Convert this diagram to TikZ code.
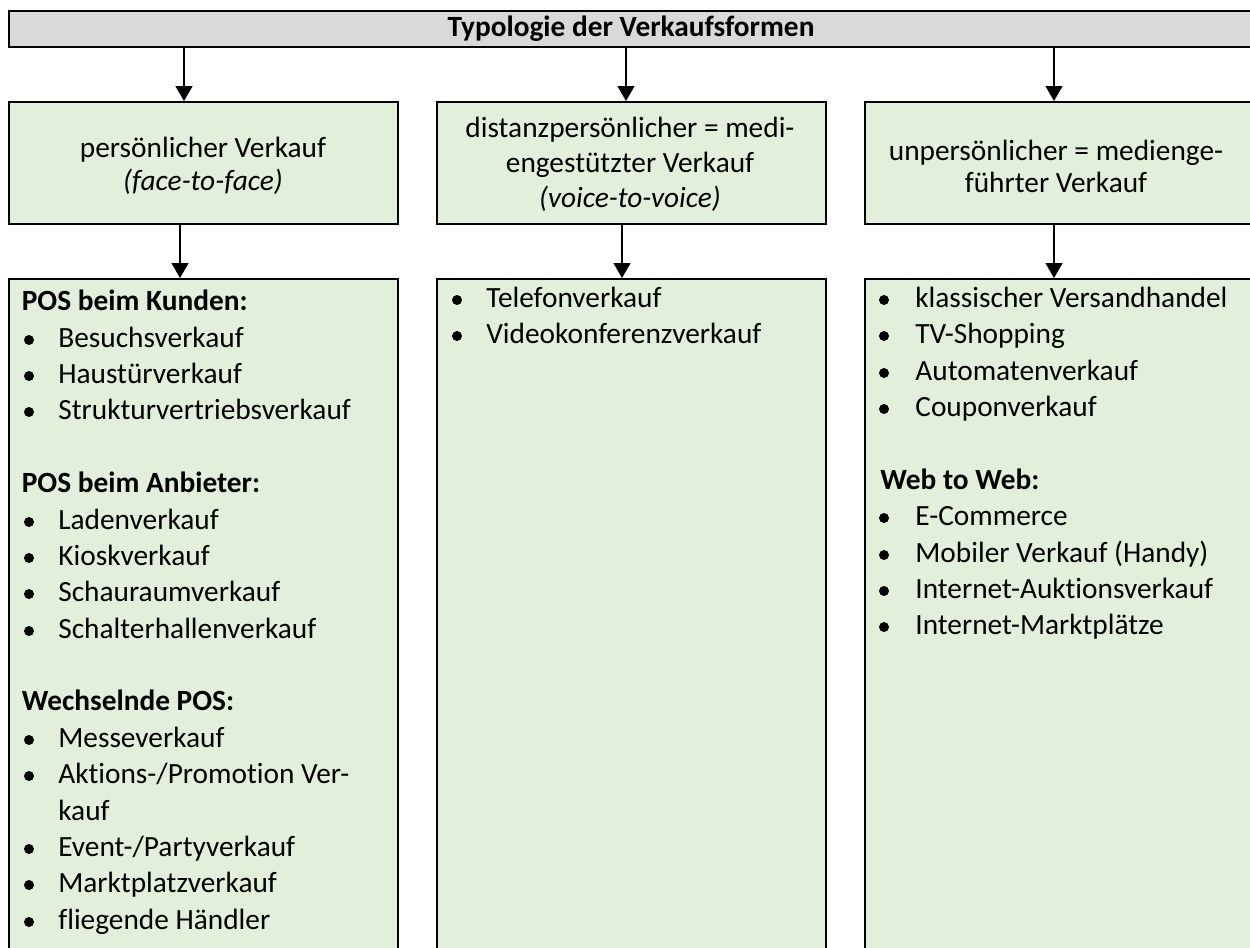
\documentclass[tikz,border=0pt]{standalone}
\usepackage{fontspec}
\setmainfont{Carlito}[Ligatures=CommonOff]
\usetikzlibrary{arrows.meta}

\newlength{\du}
\setlength{\du}{0.02cm}

\definecolor{boxgreen}{HTML}{E2EFDA}
\definecolor{bargray}{HTML}{D9D9D9}

\tikzset{
  greenbox/.style={draw=black, line width=2\du, fill=boxgreen, inner sep=0pt, anchor=north west},
  graybar/.style={draw=black, line width=2\du, fill=bargray, inner sep=0pt, anchor=north west, font=\bfseries},
  feed/.style={line width=1.3\du, -{Triangle[width=0.34cm,length=0.3cm]}},
  txt/.style={inner sep=0pt, anchor=base west},
  ctr/.style={inner sep=0pt, anchor=base},
  dot/.style={circle, fill=black, inner sep=0pt, minimum size=10\du},
}

\begin{document}
\fontsize{16.7pt}{20pt}\selectfont
\begin{tikzpicture}
\pgftransformxscale{1.000000}
\pgftransformyscale{-1.000000}
\useasboundingbox (0\du,0\du) rectangle (1250\du,947\du);
% top bar
\node[graybar, minimum width=1244\du, minimum height=36\du] (typo) at (8\du,10\du) {Typologie der Verkaufsformen};
% middle row
\node[greenbox, minimum width=389\du, minimum height=122\du] (pers) at (8\du,101\du) {};
\node[greenbox, minimum width=389\du, minimum height=122\du] (dist) at (436\du,101\du) {};
\node[greenbox, minimum width=388\du, minimum height=122\du] (unpers) at (864\du,101\du) {};
% lower row
\node[greenbox, minimum width=389\du, minimum height=692\du] (persL) at (8\du,278\du) {};
\node[greenbox, minimum width=389\du, minimum height=692\du] (distL) at (436\du,278\du) {};
\node[greenbox, minimum width=388\du, minimum height=692\du] (unpersL) at (864\du,278\du) {};
% arrows
\coordinate (persIn) at ([xshift=176\du]pers.north west);
\coordinate (distIn) at ([xshift=190\du]dist.north west);
\coordinate (unpersIn) at ([xshift=190\du]unpers.north west);
\coordinate (persOut) at ([xshift=172\du]pers.south west);
\coordinate (distOut) at ([xshift=186\du]dist.south west);
\coordinate (unpersOut) at ([xshift=190\du]unpers.south west);
\draw[feed] (typo.south -| persIn) -- (persIn);
\draw[feed] (typo.south -| distIn) -- (distIn);
\draw[feed] (typo.south -| unpersIn) -- (unpersIn);
\draw[feed] (persOut) -- (persOut |- persL.north);
\draw[feed] (distOut) -- (distOut |- distL.north);
\draw[feed] (unpersOut) -- (unpersOut |- unpersL.north);
% middle row texts
\node[ctr] (persT1) at (203\du,157\du) {persönlicher Verkauf};
\node[ctr] (persT2) at (203\du,190\du) {\textit{(face-to-face)}};
\node[ctr] (distT1) at (630\du,137\du) {distanzpersönlicher = medi-};
\node[ctr] (distT2) at (630\du,172\du) {engestützter Verkauf};
\node[ctr] (distT3) at (630\du,207\du) {\textit{(voice-to-voice)}};
\node[ctr] (unpT1) at (1056\du,160\du) {unpersönlicher = medienge-};
\node[ctr] (unpT2) at (1056\du,192\du) {führter Verkauf};
% left list
\node[txt] (kundH) at (21.5\du,310\du) {\textbf{POS beim Kunden:}};
\node[dot] (kundB1) at (29\du,340\du) {};
\node[txt] (kund1) at (58\du,347\du) {Besuchsverkauf};
\node[dot] (kundB2) at (29\du,376\du) {};
\node[txt] (kund2) at (58\du,383\du) {Haustürverkauf};
\node[dot] (kundB3) at (29\du,412\du) {};
\node[txt] (kund3) at (58\du,419\du) {Strukturvertriebsverkauf};
\node[txt] (anbH) at (21.5\du,492\du) {\textbf{POS beim Anbieter:}};
\node[dot] (anbB1) at (29\du,522\du) {};
\node[txt] (anb1) at (58\du,529\du) {Ladenverkauf};
\node[dot] (anbB2) at (29\du,558\du) {};
\node[txt] (anb2) at (58\du,565\du) {Kioskverkauf};
\node[dot] (anbB3) at (29\du,594\du) {};
\node[txt] (anb3) at (58\du,601\du) {Schauraumverkauf};
\node[dot] (anbB4) at (29\du,631\du) {};
\node[txt] (anb4) at (58\du,638\du) {Schalterhallenverkauf};
\node[txt] (wechH) at (21.5\du,710\du) {\textbf{Wechselnde POS:}};
\node[dot] (wechB1) at (29\du,740\du) {};
\node[txt] (wech1) at (58\du,747\du) {Messeverkauf};
\node[dot] (wechB2) at (29\du,776\du) {};
\node[txt] (wech2) at (58\du,783\du) {Aktions-/Promotion Ver-};
\node[txt] (wech2b) at (58\du,820\du) {kauf};
\node[dot] (wechB3) at (29\du,849\du) {};
\node[txt] (wech3) at (58\du,856\du) {Event-/Partyverkauf};
\node[dot] (wechB4) at (29\du,885\du) {};
\node[txt] (wech4) at (58\du,892\du) {Marktplatzverkauf};
\node[dot] (wechB5) at (29\du,922\du) {};
\node[txt] (wech5) at (58\du,929\du) {fliegende Händler};
% middle list
\node[dot] (telB1) at (457\du,300\du) {};
\node[txt] (tel1) at (486\du,307\du) {Telefonverkauf};
\node[dot] (telB2) at (457\du,336\du) {};
\node[txt] (tel2) at (486\du,343\du) {Videokonferenzverkauf};
% right list
\node[dot] (medB1) at (884\du,300\du) {};
\node[txt] (med1) at (915\du,307\du) {klassischer Versandhandel};
\node[dot] (medB2) at (884\du,336\du) {};
\node[txt] (med2) at (915\du,343\du) {TV-Shopping};
\node[dot] (medB3) at (884\du,373\du) {};
\node[txt] (med3) at (915\du,380\du) {Automatenverkauf};
\node[dot] (medB4) at (884\du,409\du) {};
\node[txt] (med4) at (915\du,416\du) {Couponverkauf};
\node[txt] (webH) at (880\du,489\du) {\textbf{Web to Web:}};
\node[dot] (webB1) at (884\du,518\du) {};
\node[txt] (web1) at (915\du,525\du) {E-Commerce};
\node[dot] (webB2) at (884\du,555\du) {};
\node[txt] (web2) at (915\du,562\du) {Mobiler Verkauf (Handy)};
\node[dot] (webB3) at (884\du,591\du) {};
\node[txt] (web3) at (915\du,598\du) {Internet-Auktionsverkauf};
\node[dot] (webB4) at (884\du,627\du) {};
\node[txt] (web4) at (915\du,634\du) {Internet-Marktplätze};
\end{tikzpicture}
\end{document}
